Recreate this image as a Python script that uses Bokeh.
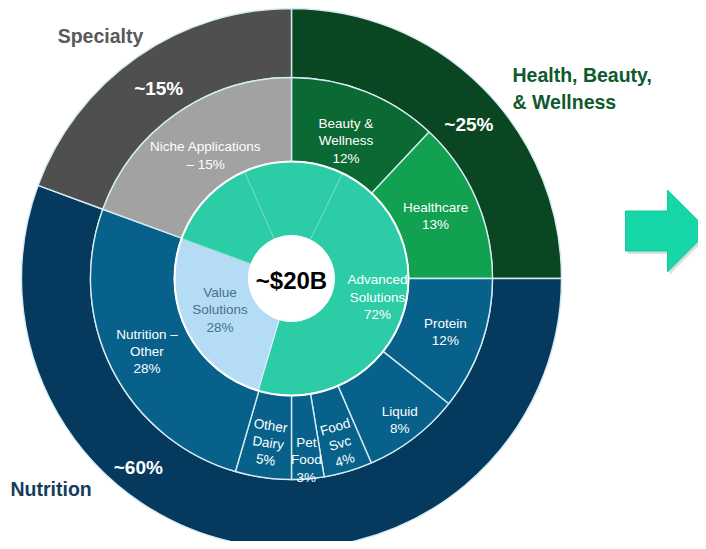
import math
from bokeh.plotting import figure
from bokeh.models import Range1d, ColumnDataSource
from bokeh.core.properties import value
from bokeh.embed import file_html
from bokeh.resources import INLINE

# ---------------- data ----------------
# outer ring: business segments (drawn share of circle, %, clockwise from 12 o'clock)
segment_names = ["Health, Beauty,\n& Wellness", "Nutrition", "Specialty"]
segment_labels = ["~25%", "~60%", "~15%"]
segment_share = [25.0, 55.6, 19.4]

# middle ring: end markets
market_names = ["Beauty &\nWellness", "Healthcare", "Protein", "Liquid", "Food\nSvc",
                "Pet\nFood", "Other\nDairy", "Nutrition –\nOther", "Niche Applications\n–"]
market_pct = [12, 13, 12, 8, 4, 3, 5, 28, 15]
market_share = [12.0, 13.0, 10.7, 7.8, 3.9, 2.6, 4.5, 26.1, 19.4]

# inner ring: solution type (starts at 93.4 % position)
solution_names = ["", "Advanced\nSolutions", "Value\nSolutions", ""]
solution_pct = [None, 72, 28, None]
solution_share = [13.8, 47.4, 26.0, 12.8]
solution_start = 93.4

total_label = "~$20B"

# ---------------- styling / layout ----------------
R_CENTER, R_INNER, R_MID, R_OUTER = 43, 117, 201, 270
SEP = "#D3EBF1"

segment_colors = ["#0A4621", "#053A5E", "#4F4F4F"]
market_colors = ["#0B6A33", "#12A150", "#07618A", "#07618A", "#07618A",
                 "#07618A", "#07618A", "#07618A", "#A2A2A2"]
solution_colors = ["#2BCCA6", "#2BCCA6", "#B4DDF5", "#2BCCA6"]
solution_line = ["#6FDCC2", "#6FDCC2", "#E9F6FC", "#6FDCC2"]
solution_text_colors = ["white", "white", "#46718F", "white"]

segment_label_r = [235, 243, 232]
segment_label_nudge = [4, 29, 0]
market_label_r = [148, 157, 163, 178, 172, 182, 166, 162, 150]
market_tilt = [0, 0, 0, 0, 1, 0, 1, 0, 0]
solution_label_r = [0, 88, 78, 0]
solution_label_nudge = [0, -9, 3, 0]

FONT = value("Liberation Sans")
W, H = 698, 541
CX, CY = 291, 278  # pixel position of the chart centre


def rad(pct):
    return math.pi / 2 - 2 * math.pi * pct / 100.0


def ring(shares, start=0.0):
    starts, ends, mids = [], [], []
    c = start
    for s in shares:
        starts.append(c)
        ends.append(c + s)
        mids.append(c + s / 2.0)
        c += s
    return starts, ends, mids


p = figure(width=W, height=H, output_backend="svg", toolbar_location=None,
           x_range=Range1d(-CX, W - CX), y_range=Range1d(CY - H, CY), min_border=0)
p.axis.visible = False
p.grid.visible = False
p.outline_line_color = None
p.background_fill_color = "white"
p.border_fill_color = "white"


def draw_ring(shares, start, r0, r1, colors, lines, lw):
    s, e, m = ring(shares, start)
    src = ColumnDataSource(dict(start=[rad(v) for v in s], end=[rad(v) for v in e],
                                color=colors, line=lines))
    p.annular_wedge(x=0, y=0, inner_radius=r0, outer_radius=r1, start_angle="start",
                    end_angle="end", direction="clock", fill_color="color",
                    line_color="line", line_width=lw, source=src)
    return m


seg_mid = draw_ring(segment_share, 0.0, R_MID, R_OUTER, segment_colors, [SEP] * 3, 1.4)
mkt_mid = draw_ring(market_share, 0.0, R_INNER, R_MID, market_colors, [SEP] * 9, 1.4)
sol_mid = draw_ring(solution_share, solution_start, R_CENTER, R_INNER, solution_colors,
                    solution_line, 1.0)
# white ring border around inner ring
p.circle(x=0, y=0, radius=R_INNER, fill_color=None, line_color="white", line_width=2)
p.circle(x=0, y=0, radius=R_CENTER, fill_color="white", line_color="white", line_width=1)


def polar(a_deg, r):
    a = math.radians(a_deg)
    return r * math.sin(a), r * math.cos(a)


# outer labels
xs, ys, ts = [], [], []
for i, lab in enumerate(segment_labels):
    x, y = polar(seg_mid[i] * 3.6 + segment_label_nudge[i], segment_label_r[i])
    xs.append(x); ys.append(y); ts.append(lab)
p.text(x=xs, y=ys, text=ts, text_font=FONT, text_font_style="bold", text_font_size="19px",
       text_color="white", text_align="center", text_baseline="middle")

# market labels
xs, ys, ts, angs = [], [], [], []
for i, nm in enumerate(market_names):
    a = mkt_mid[i] * 3.6
    x, y = polar(a, market_label_r[i])
    xs.append(x); ys.append(y)
    sep = " " if nm.endswith("–") else "\n"
    ts.append(f"{nm}{sep}{market_pct[i]}%")
    angs.append(math.radians(180 - a) if market_tilt[i] else 0.0)
p.text(x=xs, y=ys, text=ts, angle=angs, text_font=FONT, text_font_size="13.5px",
       text_color="white", text_align="center", text_baseline="middle",
       text_line_height=1.15)

# solution labels
xs, ys, ts, cs = [], [], [], []
for i, nm in enumerate(solution_names):
    if not nm:
        continue
    x, y = polar(sol_mid[i] * 3.6 + solution_label_nudge[i], solution_label_r[i])
    xs.append(x); ys.append(y); ts.append(f"{nm}\n{solution_pct[i]}%")
    cs.append(solution_text_colors[i])
p.text(x=xs, y=ys, text=ts, text_font=FONT, text_font_size="13.5px", text_color=cs,
       text_align="center", text_baseline="middle", text_line_height=1.15)

# centre total
p.text(x=[0], y=[-2], text=[total_label], text_font=FONT, text_font_style="bold",
       text_font_size="24px", text_color="black", text_align="center",
       text_baseline="middle")

# category titles
title_pos = [(221, 190, "left"), (-281, -210, "left"), (-191, 243, "center")]
title_colors = ["#0D5A2D", "#173C5C", "#595959"]
for i, nm in enumerate(segment_names):
    tx, ty, al = title_pos[i]
    p.text(x=[tx], y=[ty], text=[nm], text_font=FONT, text_font_style="bold",
           text_font_size="19.5px", text_color=title_colors[i], text_align=al,
           text_baseline="middle", text_line_height=1.25)

# arrow
ax0, acy, body_len, body_half, head_half, head_len = 334, 47.5, 42, 20, 41, 41
arrow_x = [ax0, ax0 + body_len, ax0 + body_len, ax0 + body_len + head_len,
           ax0 + body_len, ax0 + body_len, ax0]
arrow_y = [acy + body_half, acy + body_half, acy + head_half, acy,
           acy - head_half, acy - body_half, acy - body_half]
p.patch(x=[v + 2 for v in arrow_x], y=[v - 3 for v in arrow_y], fill_color="#9AA8A4",
        fill_alpha=0.35, line_color=None)
p.patch(x=arrow_x, y=arrow_y, fill_color="#16D7A8", line_color="#10C89A", line_width=1)

open("out.html", "w").write(file_html(p, INLINE))
